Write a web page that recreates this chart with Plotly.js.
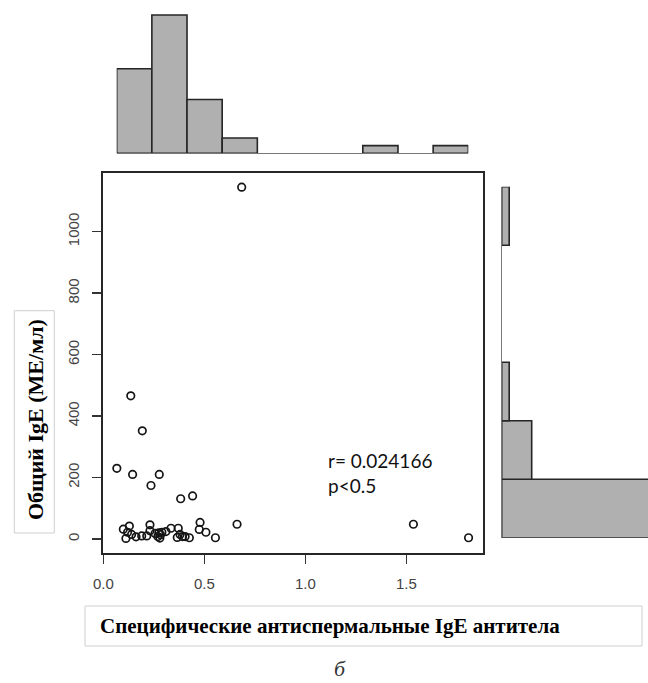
<!DOCTYPE html>
<html>
<head>
<meta charset="utf-8">
<script src="https://cdn.plot.ly/plotly-3.0.1.min.js"></script>
<style>html,body{margin:0;padding:0;background:#fff;}#chart{width:648px;height:683px;}</style>
</head>
<body>
<div id="chart"></div>
<script>
// Specific antisperm IgE antibodies (x) vs total IgE, IU/ml (y)
const antispermIgE = [
  0.136, 0.193, 0.067, 0.145, 0.277, 0.685,
  0.099, 0.129, 0.112, 0.140, 0.162, 0.190, 0.120,
  0.215, 0.231, 0.231, 0.236, 0.256, 0.270, 0.275, 0.280, 0.283, 0.290,
  0.310, 0.335, 0.366, 0.371, 0.380, 0.383, 0.392,
  0.405, 0.426, 0.442, 0.479, 0.475, 0.508, 0.555,
  0.662, 1.535, 1.808
];
const totalIgE = [
  466, 352, 230, 210, 210, 1145,
  32, 42, 2, 15, 7, 10, 22,
  10, 46, 27, 174, 18, 8, 20, 3, 14, 22,
  24, 35, 5, 35, 15, 131, 8,
  8, 4, 140, 54, 31, 22, 4,
  48, 48, 4
];
const xTickVals = [0, 0.5, 1.0, 1.5];
const xTickText = ['0.0', '0.5', '1.0', '1.5'];
const yTickVals = [0, 200, 400, 600, 800, 1000];
const yTickText = ['0', '200', '400', '600', '800', '1000'];
const statText = ['r= 0.024166', 'p<0.5'];
const xTitle = 'Специфические антиспермальные IgE антитела';
const yTitle = 'Общий IgE (МЕ/мл)';
const panelLabel = 'б';

const W = 648, H = 683;
const fx = p => p / W;
const fy = p => 1 - p / H;

const barFill = '#b0b0b0';
const barLine = {color: '#262626', width: 1.6};

const traces = [
  {
    type: 'scatter', mode: 'markers',
    x: antispermIgE, y: totalIgE, xaxis: 'x', yaxis: 'y',
    marker: {symbol: 'circle-open', size: 7.5, color: '#151515', line: {width: 1.7, color: '#151515'}},
    hoverinfo: 'x+y'
  },
  {
    type: 'histogram', x: antispermIgE, xaxis: 'x2', yaxis: 'y2',
    xbins: {start: 0, end: 2.0, size: 0.2},
    marker: {color: barFill, line: barLine}
  },
  {
    type: 'histogram', y: totalIgE, xaxis: 'x3', yaxis: 'y3', orientation: 'h',
    ybins: {start: 0, end: 1200, size: 200},
    marker: {color: barFill, line: barLine}
  }
];

const tickFont = {family: 'Liberation Sans, Arial, sans-serif', size: 15, color: '#444'};
const serif = 'Liberation Serif, Times New Roman, serif';

const layout = {
  width: W, height: H,
  margin: {l: 0, r: 0, t: 0, b: 0},
  paper_bgcolor: '#fff', plot_bgcolor: 'rgba(0,0,0,0)',
  showlegend: false, bargap: 0,
  xaxis: {
    domain: [fx(102.7), fx(482.7)], range: [-0.003, 1.878], anchor: 'y',
    tickvals: xTickVals, ticktext: xTickText,
    ticks: 'outside', ticklen: 9, tickwidth: 1.5, tickcolor: '#333',
    showline: true, mirror: true, linecolor: '#262626', linewidth: 2,
    showgrid: false, zeroline: false, tickfont: tickFont, ticklabelstandoff: 7
  },
  yaxis: {
    domain: [fy(552.7), fy(173.3)], range: [-44.6, 1190], anchor: 'x',
    tickvals: yTickVals, ticktext: yTickText, tickangle: -90,
    ticks: 'outside', ticklen: 9, tickwidth: 1.5, tickcolor: '#333',
    showline: true, mirror: true, linecolor: '#262626', linewidth: 2,
    showgrid: false, zeroline: false, tickfont: tickFont, ticklabelstandoff: 7
  },
  xaxis2: {
    domain: [fx(116.7), fx(468.3)], range: [0, 2.0], anchor: 'y2',
    showline: true, linecolor: '#777', linewidth: 1,
    showticklabels: false, ticks: '', showgrid: false, zeroline: false
  },
  yaxis2: {
    domain: [fy(153.3), 1], range: [0, 153.3 / 7.68], anchor: 'x2',
    visible: false
  },
  xaxis3: {
    domain: [fx(501.7), 1], range: [0, (648 - 501.7) / 7.5], anchor: 'y3',
    visible: false
  },
  yaxis3: {
    domain: [fy(537.7), fy(186.7)], range: [0, 1200], anchor: 'x3',
    showline: true, linecolor: '#777', linewidth: 1,
    showticklabels: false, ticks: '', showgrid: false, zeroline: false
  },
  shapes: [
    {type: 'rect', xref: 'paper', yref: 'paper',
     x0: fx(85), x1: fx(642), y0: fy(646), y1: fy(606),
     line: {color: '#cfcfcf', width: 1}, fillcolor: 'rgba(0,0,0,0)'},
    {type: 'rect', xref: 'paper', yref: 'paper',
     x0: fx(14.3), x1: fx(54.3), y0: fy(533), y1: fy(310.7),
     line: {color: '#cfcfcf', width: 1}, fillcolor: 'rgba(0,0,0,0)'}
  ],
  annotations: [
    {xref: 'paper', yref: 'paper', x: fx(326), y: fy(460), xanchor: 'left', yanchor: 'middle',
     text: statText[0], showarrow: false, font: {family: 'Lato, Open Sans, sans-serif', size: 19, color: '#111'}},
    {xref: 'paper', yref: 'paper', x: fx(326), y: fy(485), xanchor: 'left', yanchor: 'middle',
     text: statText[1], showarrow: false, font: {family: 'Lato, Open Sans, sans-serif', size: 19, color: '#111'}},
    {xref: 'paper', yref: 'paper', x: fx(98), y: fy(626), xanchor: 'left', yanchor: 'middle',
     text: '<b>' + xTitle + '</b>', showarrow: false, font: {family: serif, size: 21, color: '#000'}},
    {xref: 'paper', yref: 'paper', x: fx(35), y: fy(420), xanchor: 'center', yanchor: 'middle',
     text: '<b>' + yTitle + '</b>', textangle: -90, showarrow: false, font: {family: serif, size: 22, color: '#000'}},
    {xref: 'paper', yref: 'paper', x: fx(340), y: fy(668), xanchor: 'center', yanchor: 'middle',
     text: '<i>' + panelLabel + '</i>', showarrow: false,
     font: {family: serif, size: 22, color: '#333'}}
  ]
};

Plotly.newPlot('chart', traces, layout, {staticPlot: true, displayModeBar: false});
</script>
</body>
</html>
